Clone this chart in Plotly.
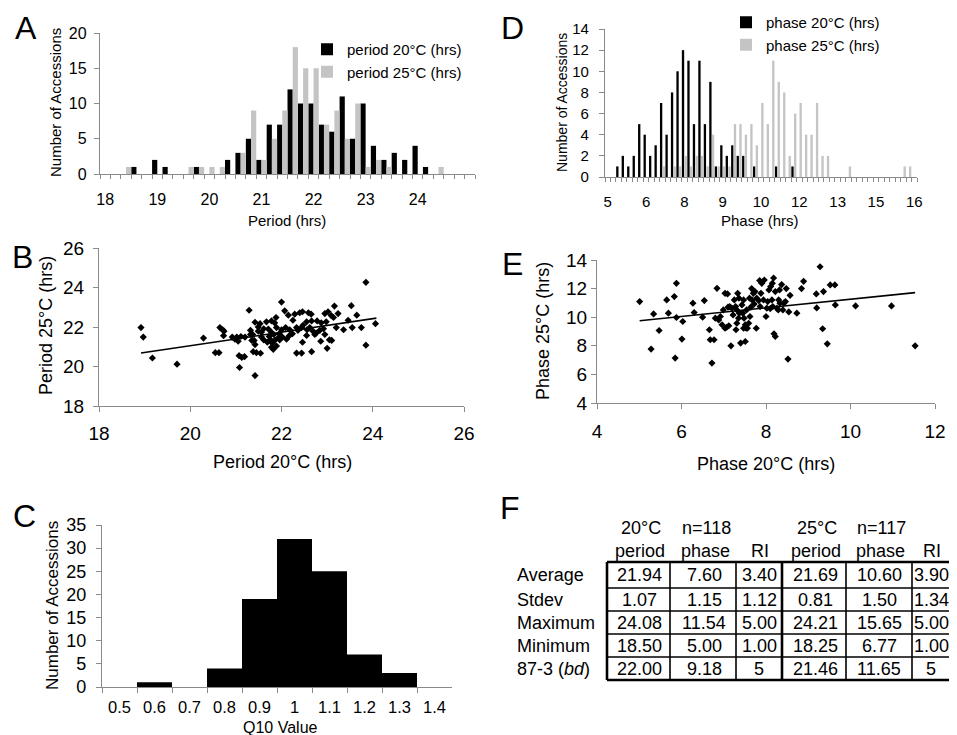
import numpy as np
import plotly.graph_objects as go

W, H = 957, 735
OX, OY = 8, 8          # page body margin of the viewer
FONT = "Arial, Liberation Sans, Helvetica, sans-serif"
AXC = "#8a8a8a"
GRAY = "#c4c4c4"

# ---------------- Panel A : period histogram (bins of 0.2 h, labelled by upper edge)
period_bins = [round(18.0 + 0.2 * i, 1) for i in range(36)]
period20_counts = [0, 0, 0, 1, 0, 2, 1, 0, 0, 1, 0, 0, 2, 3, 5, 2, 7, 7,
                   12, 10, 10, 7, 6, 11, 5, 10, 4, 2, 3, 2, 4, 1, 0, 0, 0, 0]
period25_counts = [0, 0, 1, 0, 0, 0, 0, 0, 1, 1, 1, 1, 0, 3, 9, 2, 5, 9,
                   18, 15, 15, 7, 9, 5, 10, 1, 2, 1, 0, 0, 0, 0, 1, 0, 0, 0]
period_ticks = [18, 19, 20, 21, 22, 23, 24]

# ---------------- Panel D : phase histogram
phase_bins = [round(4.8 + 0.2 * i, 1) for i in range(57)]
phase20_counts = [0, 0, 1, 2, 1, 2, 5, 4, 2, 3, 7, 4, 8, 10, 12, 11, 5, 11, 5, 9,
                  1, 3, 2, 3, 2, 2, 0, 1, 0, 0, 0, 1, 0, 0, 1, 0, 0, 0, 0, 0,
                  0, 0, 0, 0, 0, 0, 0, 0, 0, 0, 0, 0, 0, 0, 0, 0, 0]
phase25_counts = [0, 0, 0, 0, 0, 0, 0, 0, 0, 0, 1, 0, 1, 1, 2, 1, 2, 2, 1, 4,
                  1, 1, 1, 5, 5, 4, 5, 3, 7, 5, 11, 9, 8, 2, 6, 7, 4, 4, 7, 2,
                  2, 0, 0, 0, 1, 0, 0, 0, 0, 0, 0, 0, 0, 0, 1, 1, 0]
phase_tickvals = [4.8, 6.2, 7.6, 9.0, 10.4, 11.8, 13.2, 14.6, 16.0]
phase_ticktext = ["5", "6", "8", "9", "10", "12", "13", "15", "16"]

# ---------------- Panel B : period scatter
period20_x = [18.92, 18.97, 19.17, 19.71, 20.29, 20.55, 20.63, 20.65, 20.71, 20.74,
              20.73, 20.92, 20.98, 21.02, 21.05, 21.11, 21.20, 21.07, 21.13, 21.19,
              21.08, 21.29, 21.32, 21.37, 21.42, 21.40, 21.42, 21.38, 21.45, 21.54,
              21.42, 21.49, 21.53, 21.56, 21.61, 21.67, 21.73, 21.76, 21.78, 21.80,
              21.83, 21.85, 21.88, 21.89, 21.82, 21.89, 21.93, 21.96, 22.02, 22.00,
              22.07, 22.15, 22.09, 22.18, 22.24, 22.29, 22.33, 22.40, 22.46, 22.36,
              22.44, 22.47, 22.55, 22.59, 22.62, 22.65, 22.69, 22.33, 22.44, 22.46,
              22.66, 22.55, 22.76, 22.84, 22.87, 22.86, 22.95, 22.95, 23.02, 23.05,
              23.10, 23.09, 23.14, 23.00, 23.16, 23.24, 23.36, 23.46, 23.53, 23.55,
              23.65, 23.75, 23.85, 23.85, 24.06, 21.71, 21.78, 21.69, 21.61, 21.95,
              22.00, 22.25, 22.78, 22.92, 23.20, 22.56, 22.11, 22.17, 21.56, 21.49,
              22.66, 22.73, 21.78, 21.85, 21.32, 21.35, 22.98]
period25_y = [21.97, 21.49, 20.43, 20.12, 21.44, 20.70, 20.70, 21.97, 21.86, 21.79,
              21.56, 21.49, 21.38, 21.49, 21.28, 21.52, 21.49, 20.55, 20.46, 20.50,
              19.95, 22.85, 21.83, 21.62, 22.24, 21.32, 21.11, 20.75, 20.70, 20.67,
              19.54, 22.00, 22.17, 21.74, 21.91, 22.26, 21.52, 21.35, 22.31, 21.18,
              21.62, 22.21, 22.48, 21.97, 20.87, 21.04, 21.45, 21.35, 21.49, 23.26,
              22.82, 22.60, 21.97, 21.86, 21.66, 22.65, 21.97, 22.72, 22.77, 21.83,
              21.97, 22.09, 22.26, 22.72, 21.97, 22.65, 21.79, 20.68, 20.68, 21.23,
              20.75, 21.57, 21.69, 21.83, 22.21, 21.28, 21.62, 22.68, 22.77, 21.35,
              21.32, 22.58, 22.48, 20.92, 23.06, 22.68, 21.86, 22.34, 23.08, 21.97,
              22.60, 21.97, 24.26, 21.08, 22.17, 21.90, 21.73, 21.23, 21.35, 21.66,
              21.86, 22.34, 22.31, 21.91, 21.97, 21.86, 21.38, 21.56, 21.49, 21.79,
              22.31, 21.62, 20.97, 21.32, 21.62, 21.32, 22.26]
period_fit_x = [18.92, 24.08]
period_fit_y = [20.68, 22.45]

# ---------------- Panel E : phase scatter
phase20_x = [5.01, 5.28, 5.34, 5.47, 5.65, 5.69, 5.83, 5.88, 5.85, 5.88,
             6.01, 6.03, 6.27, 6.30, 6.50, 6.54, 6.66, 6.68, 6.77, 6.72,
             6.84, 6.80, 6.88, 6.96, 7.03, 7.09, 7.07, 7.12, 7.17, 7.14,
             7.19, 7.25, 7.28, 7.31, 7.33, 7.36, 7.37, 7.31, 7.40, 7.43,
             7.45, 7.51, 7.53, 7.51, 7.56, 7.59, 7.48, 7.61, 7.64, 7.67,
             7.70, 7.74, 7.77, 7.72, 7.78, 7.83, 7.85, 7.90, 7.96, 8.00,
             8.02, 8.04, 8.07, 8.10, 8.11, 8.15, 8.18, 8.19, 8.22, 8.22,
             8.26, 8.29, 8.32, 8.33, 8.37, 8.40, 8.42, 8.46, 8.48, 8.52,
             8.54, 8.57, 8.73, 8.84, 8.89, 9.19, 9.20, 9.28, 9.34, 9.36,
             9.45, 9.52, 9.63, 9.64, 10.12, 10.97, 11.53, 6.99, 6.92, 7.35,
             7.47, 7.54, 7.62, 7.86, 7.94, 8.14, 8.30, 7.22, 7.03, 7.29,
             7.66, 7.88, 8.16, 7.47, 7.10]
phase25_y = [11.09, 7.77, 10.23, 9.07, 11.21, 10.28, 11.44, 12.37, 7.14, 9.98,
             8.47, 9.70, 10.98, 10.33, 10.00, 11.16, 9.12, 8.42, 8.42, 6.79,
             12.02, 9.93, 9.81, 9.47, 11.67, 11.63, 9.30, 9.40, 8.00, 10.74,
             10.63, 11.21, 10.74, 10.51, 11.67, 11.33, 10.28, 9.58, 8.19, 10.86,
             10.28, 9.47, 9.23, 8.30, 9.23, 9.58, 9.93, 11.33, 10.70, 11.21,
             11.67, 11.79, 9.23, 10.93, 11.33, 11.16, 12.56, 12.37, 12.60, 10.05,
             10.63, 11.09, 11.91, 10.60, 12.14, 12.37, 12.74, 8.84, 8.65, 11.79,
             10.63, 10.51, 11.91, 10.98, 12.28, 10.51, 10.98, 11.09, 12.00, 7.07,
             10.37, 11.53, 10.28, 12.00, 12.51, 11.63, 10.65, 13.53, 9.19, 11.79,
             8.14, 12.26, 12.26, 10.86, 10.79, 10.79, 8.00, 10.51, 10.05, 9.93,
             11.21, 10.51, 10.05, 10.74, 11.21, 11.21, 11.21, 10.16, 9.23, 9.12,
             12.00, 11.67, 10.74, 9.23, 10.70]
phase_fit_x = [5.01, 11.53]
phase_fit_y = [9.75, 11.72]

# ---------------- Panel C : Q10 histogram
q10_bins = ["0.5", "0.6", "0.7", "0.8", "0.9", "1", "1.1", "1.2", "1.3", "1.4"]
q10_counts = [0, 1, 0, 4, 19, 32, 25, 7, 3, 0]

# ---------------- Panel F : summary table
table_groups = ["20°C", "n=118", "", "25°C", "n=117", ""]
table_cols = ["period", "phase", "RI", "period", "phase", "RI"]
table_rows = ["Average", "Stdev", "Maximum", "Minimum", "87-3 (<i>bd</i>)"]
table_vals = [
    ["21.94", "7.60", "3.40", "21.69", "10.60", "3.90"],
    ["1.07", "1.15", "1.12", "0.81", "1.50", "1.34"],
    ["24.08", "11.54", "5.00", "24.21", "15.65", "5.00"],
    ["18.50", "5.00", "1.00", "18.25", "6.77", "1.00"],
    ["22.00", "9.18", "5", "21.46", "11.65", "5"],
]


def px(x):
    return (x - OX) / W


def py(y):
    return 1 - (y - OY) / H


def xd(a, b):
    return [px(a), px(b)]


def yd(top, bottom):
    return [py(bottom), py(top)]


fig = go.Figure()

# Panel A bars
fig.add_trace(go.Bar(x=period_bins, y=period20_counts, width=0.1, offset=-0.1,
                     marker=dict(color="black", line=dict(width=0)),
                     name="period 20°C (hrs)", xaxis="x", yaxis="y", legend="legend"))
fig.add_trace(go.Bar(x=period_bins, y=period25_counts, width=0.1, offset=0.0,
                     marker=dict(color=GRAY, line=dict(width=0)),
                     name="period 25°C (hrs)", xaxis="x", yaxis="y", legend="legend"))

# Panel D bars
fig.add_trace(go.Bar(x=phase_bins, y=phase20_counts, width=0.085, offset=-0.092,
                     marker=dict(color="black", line=dict(width=0)),
                     name="phase 20°C (hrs)", xaxis="x4", yaxis="y4", legend="legend2"))
fig.add_trace(go.Bar(x=phase_bins, y=phase25_counts, width=0.085, offset=0.007,
                     marker=dict(color=GRAY, line=dict(width=0)),
                     name="phase 25°C (hrs)", xaxis="x4", yaxis="y4", legend="legend2"))

# Panel B scatter
fig.add_trace(go.Scatter(x=period20_x, y=period25_y, mode="markers",
                         marker=dict(symbol="diamond", size=5.5, color="black"),
                         showlegend=False, xaxis="x2", yaxis="y2"))
fig.add_trace(go.Scatter(x=period_fit_x, y=period_fit_y, mode="lines",
                         line=dict(color="black", width=1.6),
                         showlegend=False, xaxis="x2", yaxis="y2"))

# Panel E scatter
fig.add_trace(go.Scatter(x=phase20_x, y=phase25_y, mode="markers",
                         marker=dict(symbol="diamond", size=5.5, color="black"),
                         showlegend=False, xaxis="x5", yaxis="y5"))
fig.add_trace(go.Scatter(x=phase_fit_x, y=phase_fit_y, mode="lines",
                         line=dict(color="black", width=1.6),
                         showlegend=False, xaxis="x5", yaxis="y5"))

# Panel C bars
fig.add_trace(go.Bar(x=q10_bins, y=q10_counts, width=1.0,
                     marker=dict(color="black", line=dict(width=0)),
                     showlegend=False, xaxis="x3", yaxis="y3"))

axis_common = dict(showline=True, linecolor=AXC, linewidth=1.3, showgrid=False,
                   zeroline=False, ticks="outside", tickcolor=AXC, ticklen=5,
                   tickwidth=1.3, color="black", fixedrange=True, automargin=False)

layout = dict(
    width=W, height=H, margin=dict(l=0, r=0, t=0, b=0, pad=0, autoexpand=False),
    paper_bgcolor="white", plot_bgcolor="white",
    font=dict(family=FONT, color="black"),
    barmode="overlay",
    # Panel A
    xaxis=dict(axis_common, domain=xd(100, 475), range=[17.9, 25.1], anchor="y",
               tickmode="array", tickvals=period_ticks, ticks="",
               minor=dict(ticks="outside", tick0=17.9, dtick=0.2, ticklen=4,
                          tickcolor=AXC, tickwidth=1),
               ticklabelstandoff=11, tickfont=dict(size=16)),
    yaxis=dict(axis_common, domain=yd(33, 174), range=[0, 20], dtick=5, anchor="x",
               ticklabelstandoff=4, tickfont=dict(size=16)),
    # Panel B
    xaxis2=dict(axis_common, domain=xd(99, 464), range=[18, 26], dtick=2, anchor="y2",
                ticklabelstandoff=5, tickfont=dict(size=19)),
    yaxis2=dict(axis_common, domain=yd(248, 406), range=[18, 26], dtick=2, anchor="x2",
                ticklabelstandoff=5, tickfont=dict(size=19)),
    # Panel C
    xaxis3=dict(axis_common, domain=xd(102, 452), anchor="y3", type="category",
                tickson="boundaries", tickangle=0, ticklabelstandoff=5,
                tickfont=dict(size=16.5)),
    yaxis3=dict(axis_common, domain=yd(525, 687), range=[0, 35], dtick=5, anchor="x3",
                ticklabelstandoff=6, tickfont=dict(size=18)),
    # Panel D
    xaxis4=dict(axis_common, domain=xd(605, 917), range=[4.7, 16.1], anchor="y4",
                tickmode="array", tickvals=phase_tickvals, ticktext=phase_ticktext,
                ticks="",
                minor=dict(ticks="outside", tick0=4.7, dtick=0.2, ticklen=4,
                           tickcolor=AXC, tickwidth=1),
                ticklabelstandoff=11, tickfont=dict(size=15)),
    yaxis4=dict(axis_common, domain=yd(29, 177), range=[0, 14], dtick=2, anchor="x4",
                ticklabelstandoff=7, tickfont=dict(size=15)),
    # Panel E
    xaxis5=dict(axis_common, domain=xd(597, 935), range=[4, 12], dtick=2, anchor="y5",
                ticklabelstandoff=6, tickfont=dict(size=19)),
    yaxis5=dict(axis_common, domain=yd(260, 403), range=[4, 14], dtick=2, anchor="x5",
                tickfont=dict(size=19)),
    legend=dict(x=px(307), y=py(33), xanchor="left", yanchor="top",
                font=dict(size=15, family=FONT), bgcolor="rgba(0,0,0,0)",
                itemwidth=30, tracegroupgap=0),
    legend2=dict(x=px(726), y=py(6), xanchor="left", yanchor="top",
                 font=dict(size=15, family=FONT), bgcolor="rgba(0,0,0,0)",
                 itemwidth=30, tracegroupgap=0),
)
fig.update_layout(**layout)

annotations = []


def text(x, y, s, size, angle=0, xanchor="center", yanchor="middle"):
    annotations.append(dict(x=px(x), y=py(y), xref="paper", yref="paper", text=s,
                            showarrow=False, textangle=angle, xanchor=xanchor,
                            yanchor=yanchor, font=dict(size=size, family=FONT,
                                                       color="black")))


# panel letters
for letter, (lx, ly) in {"A": (26, 28), "B": (22, 257), "C": (24, 516),
                         "D": (512, 28), "E": (512, 264), "F": (510, 508)}.items():
    text(lx, ly, letter, 32)

# axis titles
text(55, 103, "Number of Accessions", 15, angle=-90)
text(287, 221, "Period (hrs)", 15)
text(562, 103, "Number of Accessions", 14, angle=-90)
text(760, 221, "Phase (hrs)", 15)
text(46, 326, "Period 25°C (hrs)", 18, angle=-90)
text(282, 462, "Period 20°C (hrs)", 18)
text(543, 331, "Phase 25°C (hrs)", 18, angle=-90)
text(766, 464, "Phase 20°C (hrs)", 18)
text(52, 606, "Number of Accessions", 17, angle=-90)
text(280, 727.5, "Q10 Value", 16)

# table
col_edges = [607, 670, 736, 782, 846, 912, 964]
row_edges = [562, 588, 611, 634, 657, 680]
col_centers = [639, 704, 759, 815, 879, 931]
row_centers = [(row_edges[i] + row_edges[i + 1]) / 2 for i in range(5)]
for j, s in enumerate(table_groups):
    if s:
        text(col_centers[j] + 2, 528, s, 18)
for j, s in enumerate(table_cols):
    text(col_centers[j] + 1, 551, s, 18)
for i, s in enumerate(table_rows):
    text(515, row_centers[i], s, 18, xanchor="left")
    for j, v in enumerate(table_vals[i]):
        text(col_centers[j], row_centers[i], v, 18)

shapes = []
for i, yy in enumerate(row_edges):
    w = 2.6 if i in (0, len(row_edges) - 1) else 1.6
    shapes.append(dict(type="line", xref="paper", yref="paper", x0=px(col_edges[0]),
                       x1=px(col_edges[-1]), y0=py(yy), y1=py(yy),
                       line=dict(color="black", width=w)))
for j, xx in enumerate(col_edges):
    w = 2.6 if j in (0, 3, len(col_edges) - 1) else 1.6
    shapes.append(dict(type="line", xref="paper", yref="paper", x0=px(xx), x1=px(xx),
                       y0=py(row_edges[0]), y1=py(row_edges[-1]),
                       line=dict(color="black", width=w)))

fig.update_layout(annotations=annotations, shapes=shapes)

fig.write_html("out.html")
